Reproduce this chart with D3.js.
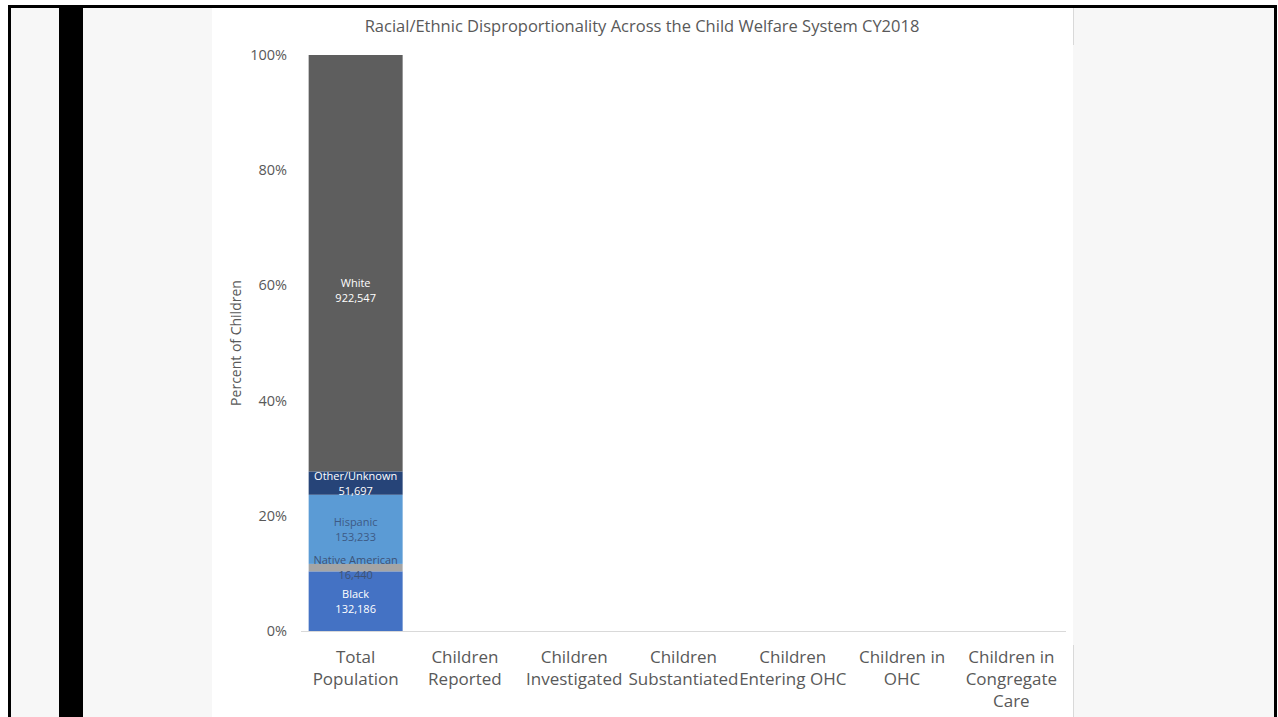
<!DOCTYPE html>
<html>
<head>
<meta charset="utf-8">
<script src="https://cdn.jsdelivr.net/npm/d3@7/dist/d3.min.js"></script>
<style>
  html, body { margin: 0; padding: 0; background: #fff; }
  svg { display: block; font-family: "Open Sans", sans-serif; }
</style>
</head>
<body>
<svg id="chart" width="1278" height="717"></svg>
<script>
// categories on the x axis (line breaks as in the original)
var categories = [
  ["Total", "Population"],
  ["Children", "Reported"],
  ["Children", "Investigated"],
  ["Children", "Substantiated"],
  ["Children", "Entering OHC"],
  ["Children in", "OHC"],
  ["Children in", "Congregate", "Care"]
];

// stacked groups, bottom to top
var groups = ["Black", "Native American", "Hispanic", "Other/Unknown", "White"];

// counts for Total Population (other categories have no data shown)
var totalPopulation = [132186, 16440, 153233, 51697, 922547];

var yTicks = [0, 0.2, 0.4, 0.6, 0.8, 1];

var title = "Racial/Ethnic Disproportionality Across the Child Welfare System CY2018";

var groupColors = {
  "Black": "#4472c4",
  "Native American": "#a5a5a5",
  "Hispanic": "#5b9bd5",
  "Other/Unknown": "#264478",
  "White": "#5e5e5e"
};
var labelColors = {
  "Black": "#ffffff",
  "Native American": "#3d5275",
  "Hispanic": "#3d5a85",
  "Other/Unknown": "#ffffff",
  "White": "#ffffff"
};

var svg = d3.select("#chart");

// slide frame
svg.append("rect")
  .attr("x", 9).attr("y", 6).attr("width", 1267).attr("height", 720)
  .style("fill", "#f7f7f7");
svg.append("path")
  .attr("d", "M9.5,717 V6.5 H1275.5 V717")
  .style("fill", "none").style("stroke", "#000").style("stroke-width", 3);
svg.append("rect")
  .attr("x", 59).attr("y", 8).attr("width", 24).attr("height", 709)
  .style("fill", "#000");
svg.append("rect")
  .attr("x", 212).attr("y", 8).attr("width", 861).attr("height", 709)
  .style("fill", "#fff");
svg.append("line")
  .attr("x1", 1073.5).attr("x2", 1073.5).attr("y1", 8).attr("y2", 45)
  .style("stroke", "#d9d9d9");
svg.append("line")
  .attr("x1", 1073.5).attr("x2", 1073.5).attr("y1", 645).attr("y2", 717)
  .style("stroke", "#d9d9d9");

var plotLeft = 301, plotRight = 1066, plotTop = 55, plotBottom = 631;

var x = d3.scaleBand()
  .domain(categories.map(function (d) { return d.join(" "); }))
  .range([plotLeft, plotRight])
  .paddingInner(0.14)
  .paddingOuter(0.07);

var y = d3.scaleLinear()
  .domain([0, 1])
  .range([plotBottom, plotTop]);

// title
svg.append("text")
  .attr("x", 642).attr("y", 32)
  .attr("text-anchor", "middle")
  .style("font-size", "16.5px")
  .style("fill", "#595959")
  .text(title);

// y axis tick labels
svg.append("g")
  .selectAll("text")
  .data(yTicks)
  .enter()
  .append("text")
  .attr("x", 287)
  .attr("y", function (d) { return y(d); })
  .attr("dy", "0.35em")
  .attr("text-anchor", "end")
  .style("font-size", "14.5px")
  .style("fill", "#595959")
  .text(d3.format(".0%"));

// y axis title
svg.append("text")
  .attr("transform", "translate(241," + (plotTop + plotBottom) / 2 + ") rotate(-90)")
  .attr("text-anchor", "middle")
  .style("font-size", "14px")
  .style("fill", "#595959")
  .text("Percent of Children");

// baseline
svg.append("line")
  .attr("x1", plotLeft).attr("x2", plotRight)
  .attr("y1", plotBottom + 0.5).attr("y2", plotBottom + 0.5)
  .style("stroke", "#d9d9d9");

// stacked bar
var total = d3.sum(totalPopulation);
var row = { category: categories[0].join(" ") };
groups.forEach(function (g, i) { row[g] = totalPopulation[i] / total; });

var series = d3.stack().keys(groups)([row]);

svg.append("g")
  .selectAll("rect")
  .data(series)
  .enter()
  .append("rect")
  .attr("x", function (d) { return x(d[0].data.category); })
  .attr("width", x.bandwidth())
  .attr("y", function (d) { return y(d[0][1]); })
  .attr("height", function (d) { return y(d[0][0]) - y(d[0][1]); })
  .style("fill", function (d) { return groupColors[d.key]; });

// data labels, drawn after all segments so nothing covers them
var fmt = d3.format(",");
var labels = svg.append("g")
  .selectAll("text")
  .data(series)
  .enter()
  .append("text")
  .attr("text-anchor", "middle")
  .style("font-size", "11px")
  .style("fill", function (d) { return labelColors[d.key]; });

labels.each(function (d, i) {
  var cx = x(d[0].data.category) + x.bandwidth() / 2;
  var cy = y((d[0][0] + d[0][1]) / 2);
  if (d.key === "White") cy += 27; // label sits below the middle in the original
  var t = d3.select(this);
  t.append("tspan").attr("x", cx).attr("y", cy - 3.5).text(d.key);
  t.append("tspan").attr("x", cx).attr("y", cy + 11.5).text(fmt(totalPopulation[i]));
});

// x axis labels
var xl = svg.append("g")
  .selectAll("text")
  .data(categories)
  .enter()
  .append("text")
  .attr("text-anchor", "middle")
  .style("font-size", "17px")
  .style("fill", "#595959");

xl.selectAll("tspan")
  .data(function (d) {
    var cx = x(d.join(" ")) + x.bandwidth() / 2;
    return d.map(function (line, j) { return { text: line, x: cx, j: j }; });
  })
  .enter()
  .append("tspan")
  .attr("x", function (d) { return d.x; })
  .attr("y", function (d) { return 663 + d.j * 22; })
  .text(function (d) { return d.text; });
</script>
</body>
</html>
